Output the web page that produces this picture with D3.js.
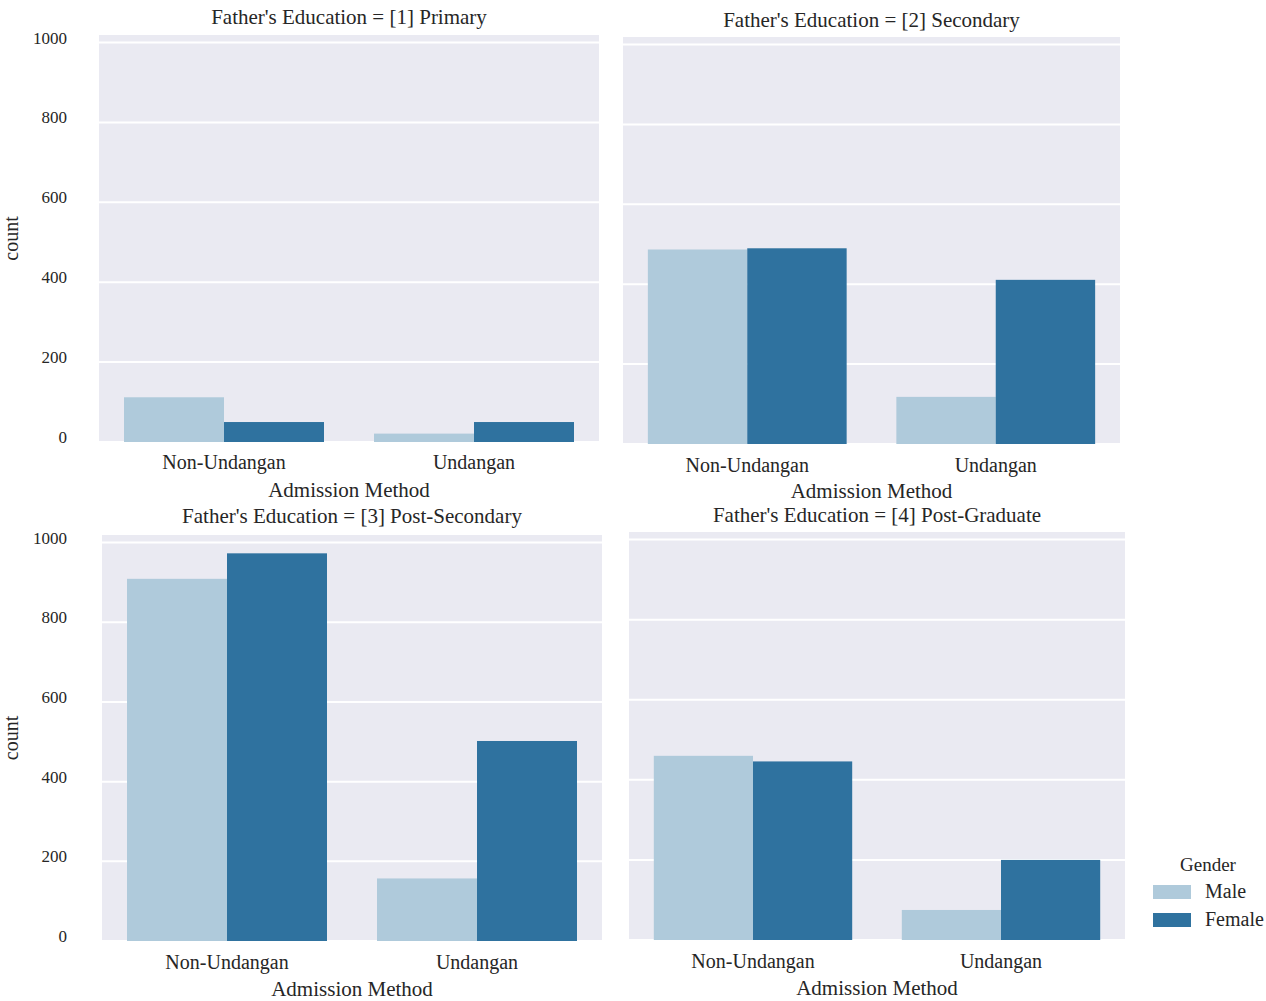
<!DOCTYPE html>
<html>
<head>
<meta charset="utf-8">
<script src="https://cdn.jsdelivr.net/npm/d3@7"></script>
<style>
  html, body { margin: 0; padding: 0; background: #ffffff; }
  svg { display: block; }
  text { font-family: "Liberation Serif", "Times New Roman", serif; fill: #262626; }
</style>
</head>
<body>
<svg id="chart" width="1266" height="1001"></svg>
<script>
// Admission counts by father's education, admission method and gender
const educationLevels = ["[1] Primary", "[2] Secondary", "[3] Post-Secondary", "[4] Post-Graduate"];
const admissionMethods = ["Non-Undangan", "Undangan"];
const genders = ["Male", "Female"];
const genderColors = ["#afcadb", "#2f729f"];

// counts[education][method] = [Male, Female]
const primaryCounts       = [[112, 50], [21, 50]];
const secondaryCounts     = [[487, 490], [118, 411]];
const postSecondaryCounts = [[909, 973], [157, 502]];
const postGraduateCounts  = [[460, 446], [75, 200]];
const countsByLevel = [primaryCounts, secondaryCounts, postSecondaryCounts, postGraduateCounts];

const yTicks = [0, 200, 400, 600, 800, 1000];
const yMax = 1019;

// Facet frames (pixel layout of the 2x2 grid)
const facets = [
  { left: 99,  right: 599,  top: 35,  bottom: 442, titleY: 24,  tickY: 469, labelY: 497, yTickLabels: true },
  { left: 623, right: 1120, top: 37,  bottom: 444, titleY: 27,  tickY: 472, labelY: 498, yTickLabels: false, clipBottom: 499 },
  { left: 102, right: 602,  top: 535, bottom: 941, titleY: 523, tickY: 969, labelY: 996, yTickLabels: true },
  { left: 629, right: 1125, top: 532, bottom: 940, titleY: 522, tickY: 968, labelY: 995, yTickLabels: false }
];

const svg = d3.select("#chart");
const defs = svg.append("defs");

facets.forEach((f, i) => {
  const g = svg.append("g");
  const counts = countsByLevel[i];

  const x = d3.scaleBand().domain(admissionMethods).range([f.left, f.right])
    .paddingInner(0.2).paddingOuter(0.1);
  const xHue = d3.scaleBand().domain(genders).range([0, x.bandwidth()]).padding(0);
  const y = d3.scaleLinear().domain([0, yMax]).range([f.bottom, f.top]);

  // panel background
  g.append("rect")
    .attr("x", f.left).attr("y", f.top)
    .attr("width", f.right - f.left).attr("height", f.bottom - f.top)
    .attr("fill", "#eaeaf2");

  // horizontal grid
  g.selectAll("line.grid").data(yTicks).join("line")
    .attr("class", "grid")
    .attr("x1", f.left).attr("x2", f.right)
    .attr("y1", d => y(d)).attr("y2", d => y(d))
    .attr("stroke", "#ffffff").attr("stroke-width", 2);

  // bars
  admissionMethods.forEach((m, mi) => {
    g.selectAll(null).data(genders).join("rect")
      .attr("x", (gd) => x(m) + xHue(gd))
      .attr("width", xHue.bandwidth())
      .attr("y", (gd, gi) => y(counts[mi][gi]))
      .attr("height", (gd, gi) => y(0) - y(counts[mi][gi]))
      .attr("fill", (gd, gi) => genderColors[gi]);
  });

  // facet title
  g.append("text")
    .attr("x", (f.left + f.right) / 2).attr("y", f.titleY)
    .attr("text-anchor", "middle").attr("font-size", 21)
    .text("Father's Education = " + educationLevels[i]);

  // x tick labels
  g.selectAll("text.xtick").data(admissionMethods).join("text")
    .attr("class", "xtick")
    .attr("x", d => x(d) + x.bandwidth() / 2).attr("y", f.tickY)
    .attr("text-anchor", "middle").attr("font-size", 20)
    .text(d => d);

  // x axis label
  let labelParent = g;
  if (f.clipBottom) {
    const id = "clip" + i;
    defs.append("clipPath").attr("id", id).append("rect")
      .attr("x", f.left - 50).attr("y", f.bottom).attr("width", f.right - f.left + 100)
      .attr("height", f.clipBottom - f.bottom);
    labelParent = g.append("g").attr("clip-path", `url(#${id})`);
  }
  labelParent.append("text")
    .attr("x", (f.left + f.right) / 2).attr("y", f.labelY)
    .attr("text-anchor", "middle").attr("font-size", 21)
    .text("Admission Method");

  // y axis tick labels and title on the left column
  if (f.yTickLabels) {
    g.selectAll("text.ytick").data(yTicks).join("text")
      .attr("class", "ytick")
      .attr("x", 67).attr("y", d => y(d) + 1)
      .attr("text-anchor", "end").attr("font-size", 17)
      .text(d => d);
    g.append("text")
      .attr("transform", `translate(18,${(f.top + f.bottom) / 2}) rotate(-90)`)
      .attr("text-anchor", "middle").attr("font-size", 20)
      .text("count");
  }
});

// legend
const legend = svg.append("g");
legend.append("text")
  .attr("x", 1208).attr("y", 871)
  .attr("text-anchor", "middle").attr("font-size", 19)
  .text("Gender");
genders.forEach((gd, gi) => {
  const cy = 892 + gi * 28;
  legend.append("rect")
    .attr("x", 1153).attr("y", cy - 7).attr("width", 38).attr("height", 14)
    .attr("fill", genderColors[gi]);
  legend.append("text")
    .attr("x", 1205).attr("y", cy + 6)
    .attr("font-size", 20)
    .text(gd);
});
</script>
</body>
</html>
